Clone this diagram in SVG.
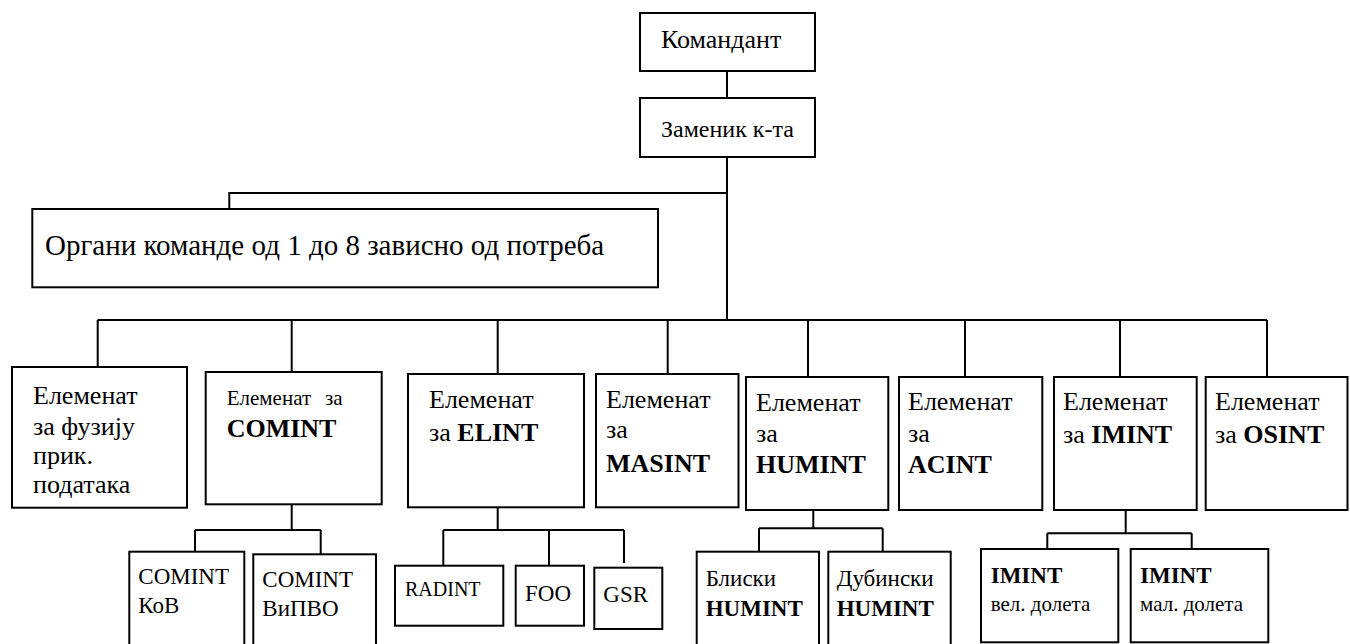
<svg xmlns="http://www.w3.org/2000/svg" width="1350" height="644" viewBox="0 0 1350 644">
<rect width="1350" height="644" fill="#fff"/>
<g id="connectors" fill="none" stroke="#000" stroke-width="2">
<path d="M727,71V98M727,157V320M727,193H229.3V209M97.7,320H1267M97.7,320V367M291.7,320V372M497.7,320V374M667.7,320V374M808,320V377M965,320V377M1120,320V377M1267,320V377"/>
<path d="M291.7,504V530M195,530H320.7M195,530V552M320.7,530V554"/>
<path d="M497.7,507V530M443.3,530H624M443.3,530V566M549,530V566M624,530V563"/>
<path d="M813.3,510V528.3M759,528.3H882.7M759,528.3V552M882.7,528.3V552"/>
<path d="M1125.7,510V533.3M1047.3,533.3H1191.7M1047.3,533.3V549M1191.7,533.3V552"/>
</g>
<g id="komandant"><rect fill="#fff" stroke="#000" stroke-width="2" x="640" y="13" width="175" height="58"/><text font-family="serif" font-size="26" x="661" y="48">Командант</text></g>
<g id="zamenik"><rect fill="#fff" stroke="#000" stroke-width="2" x="640" y="98" width="175" height="59"/><text font-family="serif" font-size="24" x="661" y="137">Заменик к-та</text></g>
<g id="organi"><rect fill="#fff" stroke="#000" stroke-width="2" x="32.3" y="209" width="625.7" height="78.3"/><text font-family="serif" font-size="29" x="45" y="255">Органи команде од 1 до 8 зависно од потреба</text></g>
<g id="fuzija"><rect fill="#fff" stroke="#000" stroke-width="2" x="12" y="367" width="175" height="140.7"/><text font-family="serif" font-size="26"><tspan x="33" y="404">Елеменат</tspan><tspan x="33" y="435">за фузију</tspan><tspan x="33" y="464">прик.</tspan><tspan x="33" y="493">података</tspan></text></g>
<g id="comint"><rect fill="#fff" stroke="#000" stroke-width="2" x="205.7" y="372" width="176" height="132.3"/><text font-family="serif" font-size="21"><tspan x="226.7" y="405">Елеменат</tspan><tspan x="325" y="405">за</tspan><tspan font-weight="bold" font-size="26" x="226.7" y="437">COMINT</tspan></text></g>
<g id="elint"><rect fill="#fff" stroke="#000" stroke-width="2" x="408" y="374" width="176" height="133.3"/><text font-family="serif" font-size="26"><tspan x="429" y="408">Елеменат</tspan><tspan x="429" y="441">за <tspan font-weight="bold">ELINT</tspan></tspan></text></g>
<g id="masint"><rect fill="#fff" stroke="#000" stroke-width="2" x="596" y="374" width="142.5" height="133.3"/><text font-family="serif" font-size="26"><tspan x="606" y="408">Елеменат</tspan><tspan x="606" y="438">за</tspan><tspan font-weight="bold" x="606" y="472">MASINT</tspan></text></g>
<g id="humint"><rect fill="#fff" stroke="#000" stroke-width="2" x="746" y="377" width="142.3" height="133"/><text font-family="serif" font-size="26"><tspan x="756" y="411">Елеменат</tspan><tspan x="756" y="442">за</tspan><tspan font-weight="bold" x="756" y="473">HUMINT</tspan></text></g>
<g id="acint"><rect fill="#fff" stroke="#000" stroke-width="2" x="899" y="377" width="143.3" height="133"/><text font-family="serif" font-size="26"><tspan x="908" y="410">Елеменат</tspan><tspan x="908" y="442">за</tspan><tspan font-weight="bold" x="908" y="473">ACINT</tspan></text></g>
<g id="imint"><rect fill="#fff" stroke="#000" stroke-width="2" x="1054" y="377" width="142.7" height="133"/><text font-family="serif" font-size="26"><tspan x="1063" y="410">Елеменат</tspan><tspan x="1063" y="443">за <tspan font-weight="bold">IMINT</tspan></tspan></text></g>
<g id="osint"><rect fill="#fff" stroke="#000" stroke-width="2" x="1205.7" y="377" width="141.8" height="133"/><text font-family="serif" font-size="26"><tspan x="1215" y="410">Елеменат</tspan><tspan x="1215" y="443">за <tspan font-weight="bold">OSINT</tspan></tspan></text></g>
<g id="comint-kov"><rect fill="#fff" stroke="#000" stroke-width="2" x="129.3" y="551.7" width="115" height="110"/><text font-family="serif" font-size="23"><tspan x="138.3" y="584">COMINT</tspan><tspan x="138.3" y="613">КоВ</tspan></text></g>
<g id="comint-vipvo"><rect fill="#fff" stroke="#000" stroke-width="2" x="253.3" y="554.3" width="122.7" height="110"/><text font-family="serif" font-size="23"><tspan x="262.3" y="587">COMINT</tspan><tspan x="262.3" y="616">ВиПВО</tspan></text></g>
<g id="radint"><rect fill="#fff" stroke="#000" stroke-width="2" x="395" y="565.7" width="108.3" height="60"/><text font-family="serif" font-size="20" x="405" y="596">RADINT</text></g>
<g id="foo"><rect fill="#fff" stroke="#000" stroke-width="2" x="515.7" y="565.7" width="68.3" height="60"/><text font-family="serif" font-size="23" x="525" y="601">FOO</text></g>
<g id="gsr"><rect fill="#fff" stroke="#000" stroke-width="2" x="594.3" y="567.7" width="68" height="61.3"/><text font-family="serif" font-size="23" x="603.3" y="602">GSR</text></g>
<g id="bliski"><rect fill="#fff" stroke="#000" stroke-width="2" x="696.7" y="551.7" width="122.3" height="110"/><text font-family="serif" font-size="23"><tspan x="705.7" y="586">Блиски</tspan><tspan font-weight="bold" x="705.7" y="616">HUMINT</tspan></text></g>
<g id="dubinski"><rect fill="#fff" stroke="#000" stroke-width="2" x="828.3" y="551.7" width="122.4" height="110"/><text font-family="serif" font-size="23"><tspan x="836.7" y="586">Дубински</tspan><tspan font-weight="bold" x="836.7" y="616">HUMINT</tspan></text></g>
<g id="imint-vel"><rect fill="#fff" stroke="#000" stroke-width="2" x="981" y="549" width="137.3" height="93.3"/><text font-family="serif" font-size="21"><tspan font-weight="bold" font-size="23" x="990.7" y="583">IMINT</tspan><tspan x="990.7" y="611">вел. долета</tspan></text></g>
<g id="imint-mal"><rect fill="#fff" stroke="#000" stroke-width="2" x="1130.7" y="549" width="137.6" height="93.3"/><text font-family="serif" font-size="21"><tspan font-weight="bold" font-size="23" x="1140" y="583">IMINT</tspan><tspan x="1140" y="611">мал. долета</tspan></text></g>
</svg>
